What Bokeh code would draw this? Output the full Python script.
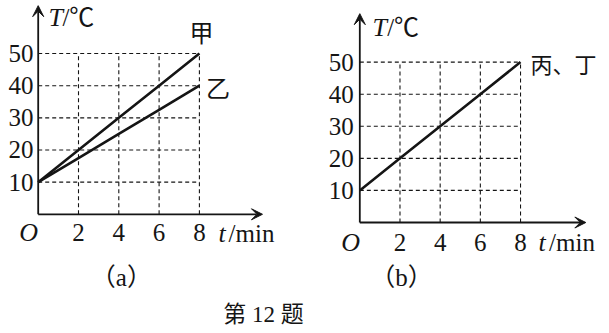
from bokeh.plotting import figure
from bokeh.models import Range1d, Arrow, VeeHead
from bokeh.core.properties import value
from bokeh.embed import file_html
from bokeh.resources import INLINE

# ---- data ----
time_min = [0, 2, 4, 6, 8]
temp_jia = [10, 20, 30, 40, 50]
temp_yi = [10, 17.5, 25, 32.5, 40]
temp_bingding = [10, 20, 30, 40, 50]
x_ticks = [2, 4, 6, 8]
y_ticks = [10, 20, 30, 40, 50]
x_tick_labels = ["2", "4", "6", "8"]
y_tick_labels = ["10", "20", "30", "40", "50"]

INK = "#151515"
SERIF = "'Liberation Serif', 'Times New Roman', 'DejaVu Serif', serif"
CJK = "'Noto Sans CJK SC', sans-serif"
MIXED = "'Liberation Serif', 'Noto Sans CJK SC', serif"

p = figure(width=609, height=333,
           x_range=Range1d(-1.871, 28.352), y_range=Range1d(-37.08, 66.50),
           x_axis_type=None, y_axis_type=None, toolbar_location=None,
           output_backend="svg", min_border=0, outline_line_color=None,
           background_fill_color="white", border_fill_color="white")
p.extra_x_ranges = {"b": Range1d(-17.885, 12.429)}
p.extra_y_ranges = {"b": Range1d(-34.60, 69.20)}


def panel(rx, ry, series, axis_end, ylab_dx, xlab_y, O_x, t_pos, T_pos):
    kw = {}
    if rx:
        kw = dict(x_range_name=rx, y_range_name=ry)
    xmax = max(x_ticks)
    ymax = max(y_ticks)
    # dashed grid
    p.segment(x0=x_ticks, y0=[0] * len(x_ticks), x1=x_ticks, y1=[ymax] * len(x_ticks),
              line_color=INK, line_width=1.1, line_dash="4 3", **kw)
    p.segment(x0=[0] * len(y_ticks), y0=y_ticks, x1=[xmax] * len(y_ticks), y1=y_ticks,
              line_color=INK, line_width=1.1, line_dash="4 3", **kw)
    # axes with arrows
    for xe, ye in ((0, axis_end[1]), (axis_end[0], 0)):
        p.add_layout(Arrow(end=VeeHead(size=11, fill_color=INK, line_color=INK, line_width=1),
                           x_start=0, y_start=0, x_end=xe, y_end=ye,
                           line_color=INK, line_width=1.8, **kw))
    # data lines
    for ys in series:
        p.line(time_min, ys, line_color=INK, line_width=2.6, **kw)
    # tick labels
    p.text(x=[ylab_dx] * len(y_ticks), y=y_ticks, text=y_tick_labels,
           text_font=value(SERIF), text_font_size="25px", text_align="right",
           text_baseline="middle", text_color=INK, **kw)
    p.text(x=x_ticks, y=[xlab_y] * len(x_ticks), text=x_tick_labels,
           text_font=value(SERIF), text_font_size="25px", text_align="center",
           text_baseline="middle", text_color=INK, **kw)
    p.text(x=[O_x], y=[xlab_y], text=["O"], text_font=value(SERIF),
           text_font_style="italic", text_font_size="26px", text_align="center",
           text_baseline="middle", text_color=INK, **kw)
    # axis titles
    p.text(x=[t_pos[0]], y=[t_pos[2]], text=["t"], text_font=value(SERIF),
           text_font_style="italic", text_font_size="26px", text_align="left",
           text_baseline="middle", text_color=INK, **kw)
    p.text(x=[t_pos[1]], y=[t_pos[2]], text=["/min"], text_font=value(SERIF),
           text_font_size="25px", text_align="left",
           text_baseline="middle", text_color=INK, **kw)
    p.text(x=[T_pos[0]], y=[T_pos[2]], text=["T"], text_font=value(SERIF),
           text_font_style="italic", text_font_size="26px", text_align="left",
           text_baseline="middle", text_color=INK, **kw)
    p.text(x=[T_pos[1]], y=[T_pos[2]], text=["/℃"], text_font=value(MIXED),
           text_font_size="25px", text_align="left",
           text_baseline="middle", text_color=INK, **kw)


# panel (a)
panel(None, None, [temp_jia, temp_yi], (11.13, 64.9), -0.23, -5.7, -0.48,
      (8.95, 9.45, -5.9), (0.51, 1.2, 61.2))
p.text(x=[8.11], y=[56.9], text=["甲"], text_font=value(CJK), text_font_size="24px",
       text_align="center", text_baseline="middle", text_color=INK)
p.text(x=[8.92], y=[39.6], text=["乙"], text_font=value(CJK), text_font_size="24px",
       text_align="center", text_baseline="middle", text_color=INK)
p.text(x=[4.13], y=[-19.7], text=["（a）"], text_font=value(MIXED), text_font_size="25px",
       text_align="center", text_baseline="middle", text_color=INK)
p.text(x=[11.18], y=[-31.2], text=["第 12 题"], text_font=value(MIXED), text_font_size="23px",
       text_align="center", text_baseline="middle", text_color=INK)

# panel (b)
panel("b", "b", [temp_bingding], (11.25, 65.1), -0.3, -6.2, -0.46,
      (8.9, 9.42, -6.2), (0.63, 1.36, 60.8))
p.text(x=[8.5], y=[49.6], text=["丙、丁"], text_font=value(CJK), text_font_size="22px",
       text_align="left", text_baseline="middle", text_color=INK,
       x_range_name="b", y_range_name="b")
p.text(x=[2.08], y=[-17.1], text=["（b）"], text_font=value(MIXED), text_font_size="25px",
       text_align="center", text_baseline="middle", text_color=INK,
       x_range_name="b", y_range_name="b")

open("out.html", "w").write(file_html(p, INLINE))
